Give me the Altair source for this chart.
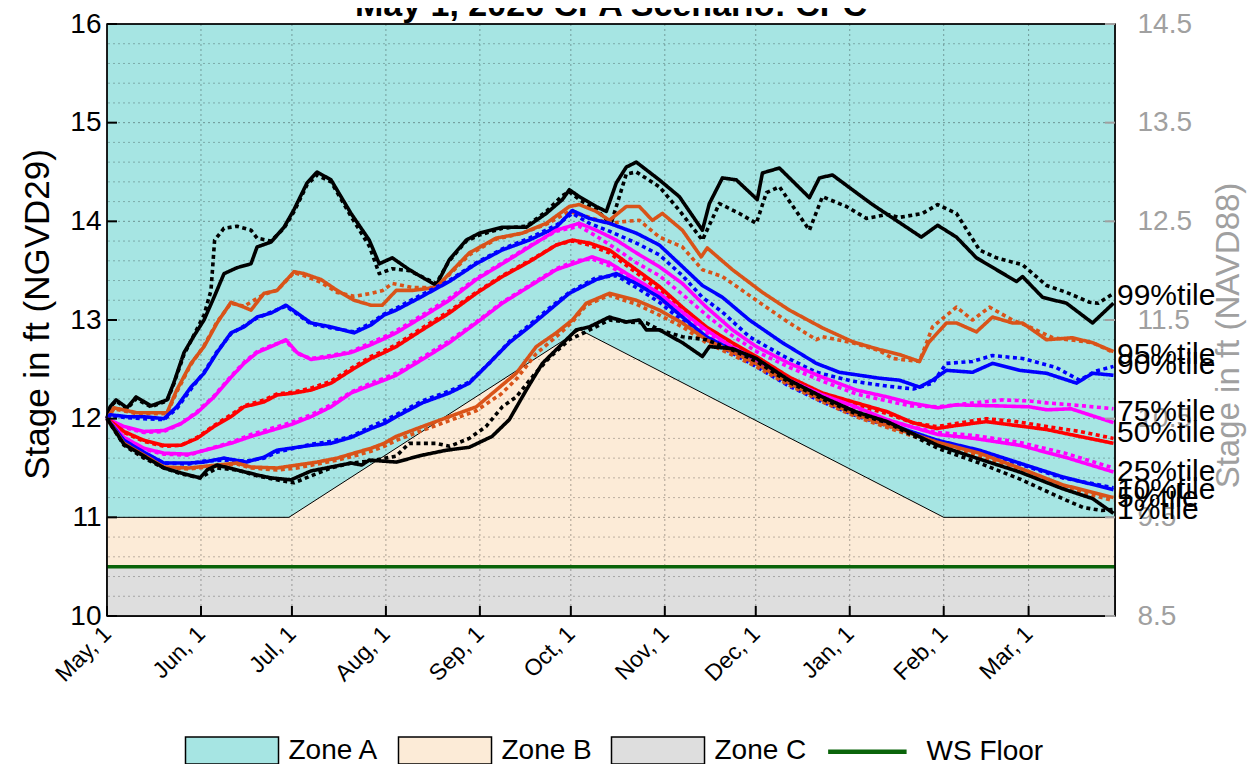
import json
import pandas as pd
import altair as alt

FONT = "Liberation Sans"
TITLE = "May 1, 2026  CPA Scenario: CPC"

# ---------------- axes / categories ----------------
MONTH_DAYS = [0, 31, 61, 92, 123, 153, 184, 214, 245, 276, 304]
MONTH_LABELS = ["May, 1", "Jun, 1", "Jul, 1", "Aug, 1", "Sep, 1", "Oct, 1",
                "Nov, 1", "Dec, 1", "Jan, 1", "Feb, 1", "Mar, 1"]
X_END = 332.5
Y_MIN, Y_MAX = 10, 16
Y_TICKS = [10, 11, 12, 13, 14, 15, 16]
NAVD_OFFSET = 1.5

# ---------------- zones ----------------
ZONE_NAMES = ["Zone A", "Zone B", "Zone C", "WS Floor"]
ZONE_COLORS = ["#A6E5E3", "#FCEBD7", "#DEDEDE", "#0A640A"]
ZONE_B_TOP = [(0, 11.0), (60, 11.0), (156, 12.9), (276, 11.0), (X_END, 11.0)]
ZONE_C_TOP = 10.5
WS_FLOOR = 10.5

# ---------------- percentile series ----------------
PCT_NAMES = ["99%", "95%", "90%", "75%", "50%", "25%", "10%", "5%", "1%"]
PCT_COLORS = ["#000000", "#D95319", "#0000FF", "#FF00FF", "#FF0000",
              "#FF00FF", "#0000FF", "#D95319", "#000000"]
LABEL_TEXT = ["99%tile", "95%tile", "90%tile", "75%tile", "50%tile",
              "25%tile", "10%tile", "5%tile", "1%tile"]
LABEL_Y = [13.24, 12.65, 12.54, 12.07, 11.85, 11.46, 11.28, 11.20, 11.07]

P99_SOLID = [(0, 12.0), (1, 12.12), (3, 12.19), (6.6, 12.11), (9.6, 12.22), (14.5, 12.13), (19.8, 12.19),
             (22, 12.36), (25.4, 12.67), (28.7, 12.84), (32, 13.0), (35.3, 13.23), (38.6, 13.47), (42.9, 13.53),
             (47.5, 13.57), (49.5, 13.74), (54.1, 13.79), (58.4, 13.94), (61.7, 14.12), (66, 14.39), (69.3, 14.5),
             (73.9, 14.42), (80.5, 14.08), (86.5, 13.81), (89.8, 13.57), (94.1, 13.63), (99.7, 13.51),
             (108.6, 13.35), (112.9, 13.61), (118.5, 13.81), (122.8, 13.88), (130.4, 13.94), (138.3, 13.94),
             (144.9, 14.08), (150.2, 14.22), (152.5, 14.32), (155.8, 14.25), (161.4, 14.15), (164.7, 14.1),
             (168, 14.39), (171.3, 14.55), (174.6, 14.6), (182.2, 14.42), (188.8, 14.25), (196.4, 13.91),
             (198.7, 14.18), (203, 14.44), (207.6, 14.42), (214.5, 14.22), (216.2, 14.49), (221.8, 14.54),
             (231.7, 14.24), (235, 14.44), (239.3, 14.47), (247.2, 14.29), (252.5, 14.17), (257.4, 14.07),
             (268.6, 13.84), (274, 13.96), (280.2, 13.84), (286.8, 13.63), (293.4, 13.51), (300, 13.39),
             (302, 13.44), (308.6, 13.23), (316.5, 13.17), (325.1, 12.97), (332, 13.17)]
P99_DOTTED = [(0, 12.0), (1, 12.12), (3, 12.18), (6.6, 12.1), (9.6, 12.2), (14.5, 12.12), (19.8, 12.18),
              (22, 12.35), (25.4, 12.65), (28.7, 12.85), (32, 13.05), (34.3, 13.3), (35.5, 13.81), (38.6, 13.93),
              (42.9, 13.95), (47.5, 13.91), (49.5, 13.83), (54.1, 13.8), (58.4, 13.93), (61.7, 14.1), (66, 14.37),
              (69.3, 14.47), (73.9, 14.4), (80.5, 14.05), (86.5, 13.75), (89.8, 13.47), (94.1, 13.52),
              (99.7, 13.5), (108.6, 13.37), (112.9, 13.6), (118.5, 13.8), (122.8, 13.86), (130.4, 13.93),
              (138.3, 13.95), (144.9, 14.1), (150.2, 14.26), (152.5, 14.3), (155.8, 14.22), (161.4, 14.12),
              (164.7, 14.02), (166.5, 14.0), (168.5, 14.2), (171.3, 14.48), (174.6, 14.5), (182.2, 14.35),
              (188.8, 14.11), (196.4, 13.81), (202, 14.18), (208.6, 14.08), (214.2, 13.98), (217.5, 14.29),
              (221.8, 14.35), (231.7, 13.91), (236, 14.25), (243.9, 14.15), (250.5, 14.03), (257.4, 14.07),
              (261.4, 14.04), (269, 14.08), (274, 14.17), (280.2, 14.08), (287.8, 13.71), (293.4, 13.63),
              (302, 13.56), (309.9, 13.35), (316.5, 13.28), (324.1, 13.18), (327, 13.17), (332, 13.27)]

P95_SOLID = [(0, 12.0), (2.3, 12.11), (9.9, 12.06), (19.8, 12.06), (23, 12.29), (27.7, 12.56), (32, 12.73),
             (36.3, 12.97), (40.9, 13.18), (45.2, 13.13), (47.5, 13.1), (51.8, 13.27), (56.1, 13.3),
             (61.7, 13.49), (65, 13.47), (70.6, 13.41), (75.9, 13.3), (81.5, 13.2), (87.1, 13.15),
             (90.8, 13.15), (95.4, 13.3), (100.7, 13.3), (108.6, 13.33), (112.9, 13.47), (119.5, 13.68),
             (128.4, 13.83), (137, 13.88), (144.9, 13.98), (152.5, 14.15), (155.8, 14.17), (161.4, 14.1),
             (165.7, 14.01), (171.3, 14.15), (175.6, 14.15), (179.9, 14.01), (183.2, 14.08), (189.8, 13.91),
             (196, 13.64), (198, 13.73), (206.3, 13.51), (216.2, 13.28), (225.1, 13.1), (236, 12.92),
             (245.9, 12.78), (254.8, 12.7), (261.4, 12.65), (268, 12.58), (271, 12.77), (276.9, 12.97),
             (280.2, 12.97), (286.8, 12.88), (292.1, 13.03), (298.7, 12.97), (302, 12.97), (309.9, 12.8),
             (318.5, 12.82), (325.1, 12.77), (332, 12.68)]
P95_DOTTED = [(0, 12.0), (2.3, 12.1), (9.9, 12.05), (19.8, 12.05), (23, 12.27), (27.7, 12.55), (32, 12.74),
              (36.3, 12.98), (40.9, 13.17), (45.2, 13.14), (51.8, 13.26), (56.1, 13.3), (61.7, 13.48),
              (65, 13.45), (70.6, 13.38), (75.9, 13.28), (81.5, 13.24), (87.1, 13.27), (91, 13.3),
              (94.1, 13.37), (100.7, 13.33), (108.6, 13.33), (112.9, 13.46), (119.5, 13.66), (128.4, 13.82),
              (137, 13.88), (144.9, 13.97), (152.5, 14.1), (155.8, 14.07), (161.4, 14.02), (165.7, 13.98),
              (171.3, 14.0), (175.6, 14.01), (182.2, 13.84), (189.8, 13.74), (196.4, 13.51), (203, 13.44),
              (214.2, 13.2), (225.1, 12.97), (234, 12.8), (236, 12.83), (245.9, 12.77), (254.8, 12.69),
              (259.1, 12.61), (268, 12.58), (272.3, 12.93), (280.2, 13.13), (285.5, 13.0), (291.1, 13.13),
              (298.7, 13.0), (304.3, 12.93), (312, 12.82), (325.1, 12.77), (332, 12.67)]

P90_SOLID = [(0, 12.0), (1, 12.04), (6.6, 12.02), (12, 12.02), (18.8, 12.0), (23, 12.12), (27.7, 12.32),
             (32, 12.46), (36.3, 12.67), (40.9, 12.87), (45.2, 12.93), (49.5, 13.03), (54.1, 13.07),
             (59, 13.15), (62.7, 13.07), (67.3, 12.97), (73.9, 12.93), (81.5, 12.87), (87.1, 12.95),
             (91.4, 13.05), (95.4, 13.1), (104, 13.24), (112.9, 13.39), (121.8, 13.57), (130.4, 13.71),
             (139.3, 13.81), (148.2, 13.94), (153.5, 14.11), (159.1, 14.03), (165.7, 13.98), (174.6, 13.88),
             (182.2, 13.76), (188.8, 13.57), (196.4, 13.35), (203, 13.23), (211.9, 13.0), (222.8, 12.77),
             (234, 12.56), (241.6, 12.47), (254.8, 12.41), (261.4, 12.39), (268, 12.32), (272.3, 12.39),
             (276.9, 12.49), (285.5, 12.47), (292.1, 12.56), (301, 12.49), (309.9, 12.46), (319.8, 12.36),
             (325.1, 12.46), (332, 12.44)]
P90_DOTTED = [(0, 12.0), (1, 12.03), (6.6, 12.01), (12, 12.0), (18.8, 11.99), (23, 12.1), (27.7, 12.3),
              (32, 12.47), (36.3, 12.68), (40.9, 12.86), (45.2, 12.94), (49.5, 13.02), (54.1, 13.08),
              (59, 13.14), (62.7, 13.06), (67.3, 12.96), (73.9, 12.92), (81.5, 12.88), (87.1, 12.97),
              (91.4, 13.06), (95.4, 13.12), (104, 13.26), (112.9, 13.4), (121.8, 13.58), (130.4, 13.72),
              (139.3, 13.83), (148.2, 13.96), (153.5, 14.08), (159.1, 13.98), (165.7, 13.9), (174.6, 13.78),
              (182.2, 13.66), (189.8, 13.45), (196.4, 13.23), (203, 13.08), (211.9, 12.83), (222.8, 12.64),
              (234, 12.47), (245.9, 12.38), (257.4, 12.33), (266, 12.3), (272.3, 12.36), (276.9, 12.56),
              (285.5, 12.58), (292.1, 12.64), (302, 12.61), (313, 12.52), (320.8, 12.39), (326, 12.48),
              (332, 12.53)]

P75_SOLID = [(0, 12.0), (5.6, 11.92), (12.2, 11.87), (18.8, 11.88), (24.4, 11.95), (29.7, 12.06), (35.3, 12.22),
             (40.9, 12.42), (45.2, 12.56), (49.5, 12.67), (54.1, 12.73), (59, 12.8), (62.7, 12.67), (67.3, 12.6),
             (73.9, 12.63), (80.5, 12.67), (87.1, 12.75), (91.4, 12.81), (95.4, 12.87), (104, 13.03),
             (112.9, 13.2), (121.8, 13.41), (130.4, 13.57), (139.3, 13.74), (148.2, 13.91), (155.8, 13.98),
             (161.4, 13.91), (168, 13.81), (174.6, 13.68), (182.2, 13.54), (189.8, 13.37), (197.7, 13.13),
             (206.3, 12.9), (214.2, 12.73), (225.1, 12.56), (236, 12.42), (247.2, 12.29), (257.4, 12.22),
             (265, 12.16), (274, 12.11), (280, 12.14), (293, 12.13), (304.3, 12.12), (310, 12.09), (318, 12.1),
             (325, 12.03), (332, 11.96)]
P75_DOTTED = [(0, 12.0), (5.6, 11.91), (12.2, 11.86), (18.8, 11.87), (24.4, 11.95), (29.7, 12.07),
              (35.3, 12.23), (40.9, 12.43), (45.2, 12.57), (49.5, 12.68), (54.1, 12.74), (59, 12.79),
              (62.7, 12.66), (67.3, 12.61), (73.9, 12.64), (80.5, 12.68), (87.1, 12.77), (91.4, 12.83),
              (95.4, 12.89), (104, 13.05), (112.9, 13.22), (121.8, 13.42), (130.4, 13.58), (139.3, 13.75),
              (148.2, 13.9), (155.8, 13.95), (161.4, 13.85), (168, 13.72), (174.6, 13.58), (182.2, 13.45),
              (189.8, 13.26), (197.7, 13.05), (206.3, 12.84), (214.2, 12.68), (225.1, 12.52), (236, 12.38),
              (247.2, 12.25), (257.4, 12.18), (265, 12.13), (274, 12.12), (283, 12.15), (295, 12.19),
              (304, 12.18), (310, 12.16), (322, 12.13), (332, 12.1)]

P50_SOLID = [(0, 12.0), (5.6, 11.87), (12.2, 11.78), (18.8, 11.73), (24.4, 11.73), (29.7, 11.8), (35.3, 11.92),
             (40.9, 12.02), (45.2, 12.12), (51.8, 12.17), (56.1, 12.24), (61.7, 12.26), (67.3, 12.29),
             (73.9, 12.36), (80.5, 12.49), (87.1, 12.61), (91.4, 12.67), (95.4, 12.73), (104, 12.9),
             (112.9, 13.07), (121.8, 13.27), (130.4, 13.44), (139.3, 13.59), (148.2, 13.76), (153.5, 13.81),
             (159.1, 13.78), (165.7, 13.71), (174.6, 13.51), (182.2, 13.34), (189.8, 13.13), (197.7, 12.93),
             (206.3, 12.77), (214.2, 12.63), (225.1, 12.42), (236, 12.26), (247.2, 12.16), (257.4, 12.07),
             (265.7, 11.96), (273.6, 11.9), (280, 11.93), (290.1, 11.97), (300, 11.93), (309.9, 11.89),
             (320.8, 11.82), (332, 11.75)]
P50_DOTTED = [(0, 12.0), (5.6, 11.86), (12.2, 11.77), (18.8, 11.72), (24.4, 11.73), (29.7, 11.81),
              (35.3, 11.93), (40.9, 12.04), (45.2, 12.13), (51.8, 12.19), (56.1, 12.25), (61.7, 12.27),
              (67.3, 12.31), (73.9, 12.38), (80.5, 12.51), (87.1, 12.63), (91.4, 12.69), (95.4, 12.75),
              (104, 12.92), (112.9, 13.09), (121.8, 13.28), (130.4, 13.45), (139.3, 13.6), (148.2, 13.76),
              (153.5, 13.8), (159.1, 13.76), (165.7, 13.68), (174.6, 13.48), (182.2, 13.3), (189.8, 13.1),
              (197.7, 12.9), (206.3, 12.74), (214.2, 12.6), (225.1, 12.4), (236, 12.24), (247.2, 12.14),
              (257.4, 12.05), (265.7, 11.96), (273.6, 11.92), (280, 11.95), (290, 12.0), (300, 11.97),
              (310, 11.92), (321, 11.87), (332, 11.8)]

P25_SOLID = [(0, 12.0), (5.6, 11.81), (12.2, 11.7), (18.8, 11.65), (27, 11.64), (31, 11.67), (40.9, 11.75),
             (47.5, 11.82), (54.1, 11.88), (60.7, 11.94), (67.3, 12.02), (73.9, 12.12), (80.5, 12.26),
             (87.1, 12.34), (91.4, 12.39), (95.4, 12.44), (104, 12.6), (112.9, 12.77), (121.8, 12.97),
             (130.4, 13.17), (139.3, 13.34), (148.2, 13.51), (154.8, 13.58), (160, 13.64), (165.7, 13.58),
             (174.6, 13.41), (182.2, 13.27), (189.8, 13.08), (197.7, 12.9), (206, 12.73), (214, 12.6),
             (225, 12.39), (236, 12.24), (247, 12.12), (257.4, 11.99), (265, 11.92), (274, 11.84), (286, 11.8),
             (301, 11.73), (316, 11.61), (332, 11.46)]
P25_DOTTED = [(0, 12.0), (5.6, 11.8), (12.2, 11.69), (18.8, 11.64), (27, 11.63), (31, 11.67), (40.9, 11.76),
              (47.5, 11.84), (54.1, 11.9), (60.7, 11.96), (67.3, 12.04), (73.9, 12.14), (80.5, 12.27),
              (87.1, 12.36), (91.4, 12.41), (95.4, 12.46), (104, 12.62), (112.9, 12.79), (121.8, 12.98),
              (130.4, 13.18), (139.3, 13.35), (148.2, 13.52), (154.8, 13.6), (160, 13.62), (165.7, 13.55),
              (174.6, 13.38), (182.2, 13.22), (189.8, 13.04), (197.7, 12.86), (206, 12.7), (214, 12.57),
              (225, 12.37), (236, 12.22), (247, 12.1), (257.4, 11.98), (265, 11.92), (274, 11.86), (286, 11.83),
              (301, 11.76), (316, 11.65), (332, 11.5)]

P10_SOLID = [(0, 12.0), (5.6, 11.78), (12.2, 11.66), (18.8, 11.55), (27, 11.55), (32, 11.56), (38.6, 11.6),
             (45.9, 11.56), (51.8, 11.61), (56, 11.68), (67.3, 11.73), (73.9, 11.75), (80.5, 11.81),
             (87.1, 11.9), (91.4, 11.95), (95.4, 12.02), (104, 12.16), (112.9, 12.26), (119.5, 12.36),
             (126, 12.56), (132.7, 12.77), (139.3, 12.93), (145.9, 13.1), (152.5, 13.27), (161.4, 13.41),
             (168, 13.47), (174.6, 13.37), (182.2, 13.23), (189.8, 13.03), (197.7, 12.83), (206, 12.7),
             (214, 12.56), (225, 12.36), (236, 12.19), (247, 12.05), (257.4, 11.95), (274, 11.78),
             (287.8, 11.68), (301, 11.55), (315.2, 11.41), (332, 11.28)]
P10_DOTTED = [(0, 12.0), (5.6, 11.77), (12.2, 11.65), (18.8, 11.55), (27, 11.54), (32, 11.57), (38.6, 11.58),
              (45.9, 11.57), (51.8, 11.6), (56, 11.66), (67.3, 11.74), (73.9, 11.77), (80.5, 11.82),
              (87.1, 11.92), (91.4, 11.98), (95.4, 12.04), (104, 12.18), (112.9, 12.28), (119.5, 12.37),
              (126, 12.56), (132.7, 12.78), (139.3, 12.95), (145.9, 13.12), (152.5, 13.28), (161.4, 13.43),
              (168, 13.45), (174.6, 13.33), (182.2, 13.18), (189.8, 12.99), (197.7, 12.8), (206, 12.67),
              (214, 12.53), (225, 12.33), (236, 12.17), (247, 12.03), (257.4, 11.93), (274, 11.77),
              (287.8, 11.66), (301, 11.54), (315.2, 11.4), (332, 11.3)]

P5_SOLID = [(0, 12.0), (5.6, 11.75), (12.2, 11.63), (18.8, 11.51), (27, 11.5), (36.3, 11.53), (42.9, 11.55),
            (47.5, 11.51), (56.1, 11.5), (62.7, 11.53), (69.3, 11.56), (75.9, 11.6), (82.5, 11.66),
            (87.1, 11.7), (91.4, 11.75), (95.4, 11.82), (104, 11.92), (112.9, 12.02), (121.8, 12.12),
            (128.4, 12.29), (135, 12.46), (141.6, 12.73), (148.2, 12.87), (153.5, 13.0), (158.1, 13.17),
            (165.7, 13.27), (174.6, 13.2), (182.2, 13.1), (189.8, 12.97), (197.7, 12.8), (206, 12.68),
            (214, 12.56), (225, 12.36), (236, 12.19), (247, 12.04), (257.4, 11.93), (274, 11.76),
            (287.8, 11.65), (301, 11.5), (315.2, 11.33), (332, 11.2)]
P5_DOTTED = [(0, 12.0), (5.6, 11.74), (12.2, 11.61), (18.8, 11.5), (27, 11.49), (36.3, 11.52), (42.9, 11.54),
             (47.5, 11.5), (56.1, 11.48), (62.7, 11.5), (69.3, 11.54), (75.9, 11.58), (82.5, 11.63),
             (87.1, 11.67), (91.4, 11.72), (95.4, 11.78), (104, 11.88), (112.9, 11.98), (121.8, 12.08),
             (130, 12.25), (135, 12.4), (141.6, 12.66), (148.2, 12.83), (153.5, 12.98), (158.1, 13.15),
             (165.7, 13.25), (174.6, 13.16), (182.2, 13.05), (189.8, 12.93), (197.7, 12.77), (206, 12.65),
             (214, 12.53), (225, 12.34), (236, 12.17), (247, 12.02), (257.4, 11.91), (274, 11.74),
             (287.8, 11.62), (301, 11.47), (315.2, 11.3), (332, 11.17)]

P1_SOLID = [(0, 12.0), (5.6, 11.74), (12.2, 11.62), (18.8, 11.5), (24.4, 11.45), (30.7, 11.4), (33, 11.48),
            (36.3, 11.53), (42.9, 11.48), (49.5, 11.43), (54, 11.4), (60.7, 11.38), (67.3, 11.47),
            (73.9, 11.51), (80.5, 11.55), (84, 11.53), (86.5, 11.58), (95.4, 11.56), (104, 11.63),
            (111.9, 11.68), (119.5, 11.71), (127, 11.82), (132.7, 11.99), (138.3, 12.29), (143.6, 12.56),
            (149.2, 12.73), (154.8, 12.9), (159.1, 12.93), (165.7, 13.03), (171.3, 12.98), (175.6, 13.0),
            (177.9, 12.9), (182.2, 12.9), (189.8, 12.77), (196.4, 12.63), (198.7, 12.73), (206.3, 12.71),
            (214.2, 12.61), (225, 12.39), (236, 12.22), (247, 12.07), (257.4, 11.97), (274, 11.73),
            (287.8, 11.59), (301, 11.46), (315.2, 11.29), (325.1, 11.19), (332, 11.04)]
P1_DOTTED = [(0, 12.0), (5.6, 11.73), (12.2, 11.6), (18.8, 11.5), (24.4, 11.44), (30.7, 11.4), (36.3, 11.5),
             (42.9, 11.48), (49.5, 11.42), (56, 11.38), (61.7, 11.35), (67.3, 11.42), (73.9, 11.5),
             (80.5, 11.55), (86.5, 11.57), (95.4, 11.62), (99.7, 11.75), (108.6, 11.75), (113, 11.72),
             (119.5, 11.8), (125, 11.92), (130.4, 12.12), (135, 12.22), (141, 12.45), (146, 12.62),
             (152.5, 12.8), (158, 12.88), (165.7, 13.0), (171.3, 12.98), (177.9, 12.97), (182.2, 12.9),
             (189.8, 12.83), (197.7, 12.8), (206, 12.7), (214.2, 12.58), (225, 12.37), (236, 12.2),
             (247, 12.05), (257.4, 11.96), (274, 11.7), (287.8, 11.55), (301, 11.39), (315.2, 11.19),
             (322, 11.1), (328, 11.07), (332, 11.08)]

SERIES = [("99%", P99_SOLID, P99_DOTTED), ("95%", P95_SOLID, P95_DOTTED), ("90%", P90_SOLID, P90_DOTTED),
          ("75%", P75_SOLID, P75_DOTTED), ("50%", P50_SOLID, P50_DOTTED), ("25%", P25_SOLID, P25_DOTTED),
          ("10%", P10_SOLID, P10_DOTTED), ("5%", P5_SOLID, P5_DOTTED), ("1%", P1_SOLID, P1_DOTTED)]

# ---------------- layout ----------------
W, H = 1008, 592
GRAY = "#A0A0A0"

rows = []
for name, solid, dotted in SERIES:
    for style, pts in (("solid", solid), ("dotted", dotted)):
        for d, v in pts:
            rows.append({"pct": name, "style": style, "key": name + "-" + style, "day": d, "stage": v})
lines_df = pd.DataFrame(rows)

xscale = alt.Scale(domain=[0, X_END], nice=False, zero=False)
yscale = alt.Scale(domain=[Y_MIN, Y_MAX], nice=False, zero=False)

label_expr = "{}[indexof({}, datum.value)]".format(json.dumps(MONTH_LABELS), json.dumps(MONTH_DAYS))
x_axis = alt.Axis(values=MONTH_DAYS, labelExpr=label_expr, labelAngle=315, labelAlign="right",
                  labelBaseline="middle", labelFontSize=23, labelFont=FONT, labelColor="black",
                  labelPadding=14, ticks=False, domain=False, grid=False, title=None,
                  labelFlush=False, labelOverlap=False, labelBound=False)
left_axis = alt.Axis(orient="left", values=Y_TICKS, format="d", labelFontSize=28, labelFont=FONT,
                     labelColor="black", labelPadding=6, ticks=False, domain=False, grid=False,
                     title="Stage in ft (NGVD29)", titleFontSize=35, titleFont=FONT, titleFontWeight="normal",
                     titleColor="black", titleAngle=270, titleX=-70, titleY=290, titleAlign="center",
                     titleBaseline="middle", labelFlush=False)
right_axis = alt.Axis(orient="right", values=Y_TICKS,
                      labelExpr="format(datum.value - {}, '.1f')".format(NAVD_OFFSET),
                      labelFontSize=28, labelFont=FONT, labelColor=GRAY, labelPadding=22, ticks=False,
                      domain=False, grid=False, title="Stage in ft (NAVD88)", titleFontSize=33, titleFont=FONT,
                      titleFontWeight="normal", titleColor=GRAY, titleAngle=270, titleX=113, titleY=311,
                      titleAlign="center", titleBaseline="middle", labelFlush=False)

# zones
zone_a = alt.Chart(pd.DataFrame({"x": [0], "x2": [X_END], "y": [Y_MIN], "y2": [Y_MAX]})).mark_rect(
    fill=ZONE_COLORS[0], stroke="black", strokeWidth=1).encode(
    x=alt.X("x:Q", scale=xscale, axis=None), x2="x2:Q",
    y=alt.Y("y:Q", scale=yscale, axis=None), y2="y2:Q")
zb = pd.DataFrame({"day": [p[0] for p in ZONE_B_TOP], "top": [p[1] for p in ZONE_B_TOP],
                   "base": [ZONE_C_TOP] * len(ZONE_B_TOP)})
zone_b = alt.Chart(zb).mark_area(fill=ZONE_COLORS[1], stroke="black", strokeWidth=1).encode(
    x=alt.X("day:Q", scale=xscale, axis=None),
    y=alt.Y("top:Q", scale=yscale, axis=None), y2="base:Q")
zone_c = alt.Chart(pd.DataFrame({"x": [0], "x2": [X_END], "y": [Y_MIN], "y2": [ZONE_C_TOP]})).mark_rect(
    fill=ZONE_COLORS[2], stroke="black", strokeWidth=1).encode(
    x=alt.X("x:Q", scale=xscale, axis=None), x2="x2:Q",
    y=alt.Y("y:Q", scale=yscale, axis=None), y2="y2:Q")

# grid
minor_vals = [round(Y_MIN + 0.2 * i, 1) for i in range(1, 30) if (i % 5) != 0]
major_vals = Y_TICKS[1:-1]
grid_minor = alt.Chart(pd.DataFrame({"v": minor_vals})).mark_rule(
    color="black", opacity=0.25, strokeWidth=1, strokeDash=[2, 3]).encode(
    y=alt.Y("v:Q", scale=yscale, axis=None))
grid_major = alt.Chart(pd.DataFrame({"v": major_vals})).mark_rule(
    color="black", opacity=0.35, strokeWidth=1, strokeDash=[2, 3]).encode(
    y=alt.Y("v:Q", scale=yscale, axis=None))
grid_vert = alt.Chart(pd.DataFrame({"d": MONTH_DAYS[1:]})).mark_rule(
    color="black", opacity=0.32, strokeWidth=1, strokeDash=[2, 3]).encode(
    x=alt.X("d:Q", scale=xscale, axis=None))

ws = alt.Chart(pd.DataFrame({"v": [WS_FLOOR]})).mark_rule(color=ZONE_COLORS[3], strokeWidth=3.5).encode(
    y=alt.Y("v:Q", scale=yscale, axis=None))

lines = alt.Chart(lines_df).mark_line(strokeWidth=3.6, strokeJoin="round").encode(
    x=alt.X("day:Q", scale=xscale, axis=None),
    y=alt.Y("stage:Q", scale=yscale, axis=None),
    color=alt.Color("pct:N", scale=alt.Scale(domain=PCT_NAMES, range=PCT_COLORS), legend=None),
    strokeDash=alt.StrokeDash("style:N", scale=alt.Scale(domain=["solid", "dotted"], range=[[1, 0], [4, 3.5]]),
                              legend=None),
    detail="key:N")

frame = alt.Chart(pd.DataFrame({"a": [0]})).mark_rect(filled=False, stroke="black", strokeWidth=1.5).encode(
    x=alt.value(0), x2=alt.value(W), y=alt.value(0), y2=alt.value(H))

left_ticks = alt.Chart(pd.DataFrame({"v": Y_TICKS})).mark_rule(color="black", strokeWidth=2).encode(
    y=alt.Y("v:Q", scale=yscale, axis=left_axis), x=alt.value(0), x2=alt.value(10))
right_ticks = alt.Chart(pd.DataFrame({"v": Y_TICKS})).mark_rule(color=GRAY, strokeWidth=2).encode(
    y=alt.Y("v:Q", scale=yscale, axis=right_axis), x=alt.value(W - 10), x2=alt.value(W))
bottom_ticks = alt.Chart(pd.DataFrame({"d": MONTH_DAYS})).mark_rule(color="black", strokeWidth=2).encode(
    x=alt.X("d:Q", scale=xscale, axis=x_axis), y=alt.value(H - 10), y2=alt.value(H))

pct_labels = alt.Chart(pd.DataFrame({"label": LABEL_TEXT, "v": LABEL_Y})).mark_text(
    align="left", baseline="middle", fontSize=30, font=FONT, color="black").encode(
    y=alt.Y("v:Q", scale=yscale, axis=None), x=alt.value(W + 2), text="label:N")

title = alt.Chart(pd.DataFrame({"t": [TITLE]})).mark_text(
    fontSize=34, fontWeight="bold", font=FONT, baseline="alphabetic", align="center", color="black").encode(
    text="t:N", x=alt.value(W / 2), y=alt.value(-8))

# legend (real Vega legend; the points themselves are clipped away)
SYM = 27  # symbol cell size in px; box path extends to the right of the cell
LEGEND_STROKES = ["black", "black", "black", ZONE_COLORS[3]]
BOX = "M-1,-1H5.89V1H-1Z"
LINE = "M-0.6,-0.11H5.1V0.11H-0.6Z"
LEGEND_SHAPES = [BOX, BOX, BOX, LINE]
leg = alt.Legend(title=None, orient="none", legendX=77.5, legendY=712, direction="horizontal",
                 labelFontSize=28, labelFont=FONT, labelColor="black", labelOffset=75, columnPadding=16,
                 symbolSize=SYM * SYM, symbolStrokeWidth=1.5, padding=0, labelBaseline="middle")
legend_layer = alt.Chart(pd.DataFrame({"item": ZONE_NAMES})).mark_point(
    filled=True, clip=True, opacity=1, size=10).encode(
    x=alt.value(-1000), y=alt.value(-1000),
    fill=alt.Fill("item:N", scale=alt.Scale(domain=ZONE_NAMES, range=ZONE_COLORS), legend=leg),
    stroke=alt.Stroke("item:N", scale=alt.Scale(domain=ZONE_NAMES, range=LEGEND_STROKES), legend=leg),
    shape=alt.Shape("item:N", scale=alt.Scale(domain=ZONE_NAMES, range=LEGEND_SHAPES), legend=leg))

chart = alt.layer(
    zone_a, zone_b, zone_c, grid_minor, grid_major, grid_vert, ws, lines, frame,
    left_ticks, right_ticks, bottom_ticks, pct_labels, title, legend_layer
).resolve_axis(x="independent", y="independent").properties(
    width=W, height=H,
    padding={"left": 99, "top": 16, "right": 132, "bottom": 148},
    autosize=alt.AutoSizeParams(type="none"),
).configure_view(stroke=None).configure(font=FONT)

chart.save("out.html", embed_options={"renderer": "svg", "actions": False})
